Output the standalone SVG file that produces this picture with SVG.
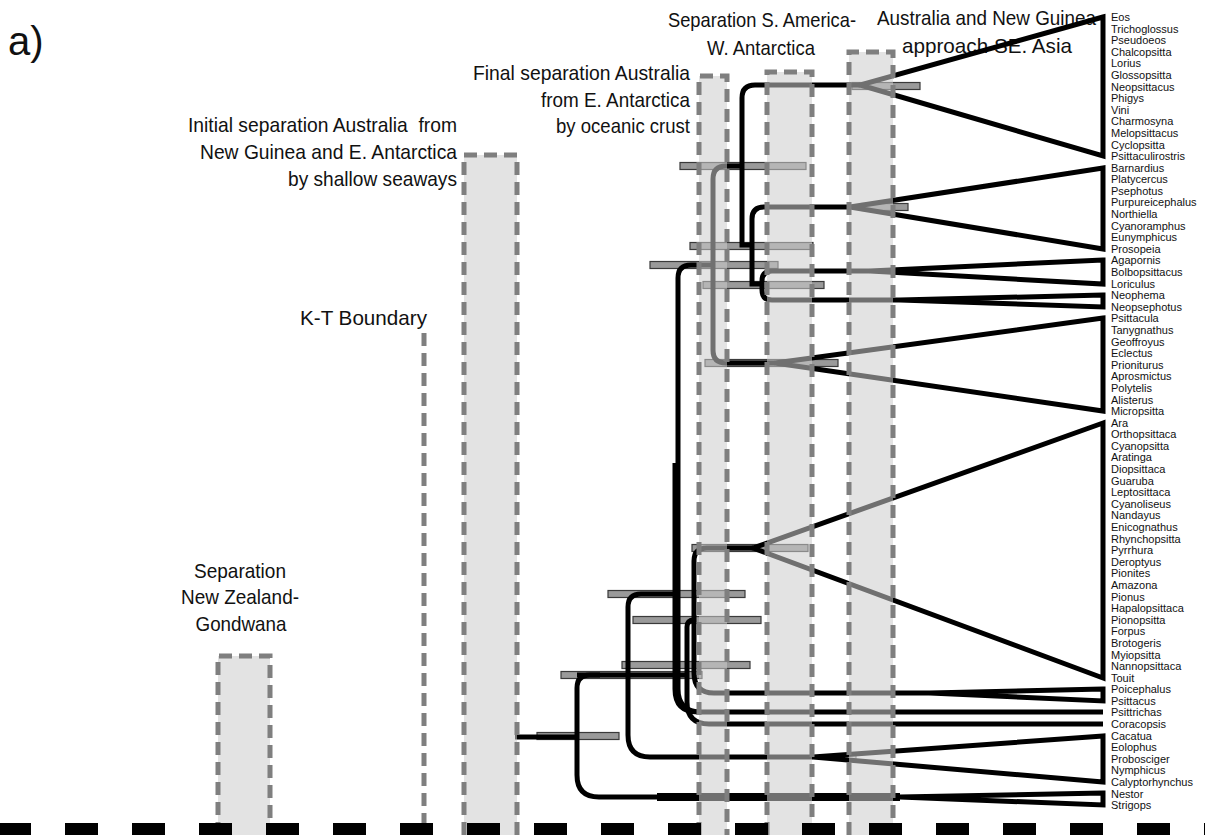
<svg xmlns="http://www.w3.org/2000/svg" width="1205" height="835" viewBox="0 0 1205 835">
<style>
.lbl{font-family:"Liberation Sans Narrow","Liberation Sans",Arial,sans-serif;font-size:21px;fill:#111}
.tx{font-family:"Liberation Sans",Arial,sans-serif;font-size:11px;fill:#111}
.br{fill:none;stroke:#000;stroke-width:5}
.cl{fill:none;stroke:#000;stroke-width:5;stroke-linejoin:miter}
.ci{fill:#9a9a9a;stroke:#3a3a3a;stroke-width:1.2}
.bandfill{fill:#cccccc;fill-opacity:0.55}
.edge{fill:none;stroke:#7f7f7f;stroke-width:5;stroke-dasharray:13 7}
</style>
<rect x="0" y="0" width="1205" height="835" fill="#fff"/>

<g id="event-labels">
<text class="lbl" x="8" y="55" style="font-family:'Liberation Sans',Arial,sans-serif;font-size:40px">a)</text>
<text class="lbl" text-anchor="end" x="457" y="132" textLength="269" lengthAdjust="spacingAndGlyphs">Initial separation Australia&#160; from</text>
<text class="lbl" text-anchor="end" x="457" y="159" textLength="257" lengthAdjust="spacingAndGlyphs">New Guinea and E. Antarctica</text>
<text class="lbl" text-anchor="end" x="457" y="186" textLength="169" lengthAdjust="spacingAndGlyphs">by shallow seaways</text>
<text class="lbl" text-anchor="end" x="690" y="80" textLength="217" lengthAdjust="spacingAndGlyphs">Final separation Australia</text>
<text class="lbl" text-anchor="end" x="690" y="107" textLength="149" lengthAdjust="spacingAndGlyphs">from E. Antarctica</text>
<text class="lbl" text-anchor="end" x="690" y="133" textLength="134" lengthAdjust="spacingAndGlyphs">by oceanic crust</text>
<text class="lbl" x="668" y="27" textLength="188" lengthAdjust="spacingAndGlyphs">Separation S. America-</text>
<text class="lbl" x="707" y="55" textLength="108" lengthAdjust="spacingAndGlyphs">W. Antarctica</text>
<text class="lbl" x="877" y="25" textLength="219" lengthAdjust="spacingAndGlyphs">Australia and New Guinea</text>
<text class="lbl" x="902" y="53" textLength="170" lengthAdjust="spacingAndGlyphs">approach SE. Asia</text>
<text class="lbl" text-anchor="end" x="427" y="325" textLength="127" lengthAdjust="spacingAndGlyphs">K-T Boundary</text>
<text class="lbl" text-anchor="middle" x="240" y="578" textLength="92" lengthAdjust="spacingAndGlyphs">Separation</text>
<text class="lbl" text-anchor="middle" x="240" y="604" textLength="118" lengthAdjust="spacingAndGlyphs">New Zealand-</text>
<text class="lbl" text-anchor="middle" x="241" y="631" textLength="91" lengthAdjust="spacingAndGlyphs">Gondwana</text>
</g>

<g id="ci-bars">
<rect class="ci" x="852" y="82.5" width="68" height="7"/>
<rect class="ci" x="862" y="203.5" width="46" height="7"/>
<rect class="ci" x="680" y="162.5" width="126" height="7"/>
<rect class="ci" x="690" y="242.5" width="123" height="7"/>
<rect class="ci" x="650" y="261.5" width="128" height="7"/>
<rect class="ci" x="703" y="281.5" width="121" height="7"/>
<rect class="ci" x="705" y="359.5" width="133" height="7"/>
<rect class="ci" x="692" y="544.5" width="116" height="7"/>
<rect class="ci" x="608" y="590.5" width="137" height="7"/>
<rect class="ci" x="633" y="616.5" width="128" height="7"/>
<rect class="ci" x="622" y="661.5" width="128" height="7"/>
<rect class="ci" x="561" y="671.5" width="141" height="7"/>
<rect class="ci" x="537" y="732.5" width="82" height="7"/>
<rect x="847" y="754" width="9" height="6" fill="#d0d0d0" stroke="#666" stroke-width="1"/>
</g>

<g id="connectors">
<path class="br" d="M515,737 H577"/>
<path class="br" d="M600,675 H590 Q577,675 577,688 V775 Q577,797 599,797 H900"/>
<path class="br" d="M657,797 H900" style="stroke-width:8"/>
<path class="br" d="M577,675 H688"/>
<path class="br" d="M677,594 H641 Q628,594 628,607 V735 Q628,757 650,757 H813"/>
<path class="br" d="M713,265 H691 Q678,265 678,278 V689 Q678,712 701,712 H1103"/>
<path class="br" d="M675,463 V689 Q675,712 698,712"/>
<path class="br" d="M694,620 Q687,620 687,627 V702 Q687,724 709,724 H1103"/>
<path class="br" d="M753,548 H707 Q694,548 694,561 V673 Q694,693 714,693 H930"/>
<path class="br" d="M742,166 H726 Q713,166 713,179 V350 Q713,363 726,363 H775"/>
<path class="br" d="M860,85 H755 Q742,85 742,98 V245 H752"/>
<path class="br" d="M850,207 H764 Q752,207 752,219 V284 H762"/>
<path class="br" d="M870,271 H772 Q762,271 762,281 V290 Q762,300 772,300 H900"/>
</g>

<g id="clade-loriinae">
<path class="cl" d="M1103,17 L860,85 L1103,156 Z"/>
</g>
<g id="clade-platycercini">
<path class="cl" d="M1103,168 L850,207 L1103,249 Z"/>
</g>
<g id="clade-agapornis">
<path class="cl" d="M1103,260 L870,271 L1103,284 Z"/>
</g>
<g id="clade-neophema">
<path class="cl" d="M1103,295 L900,300 L1103,307 Z"/>
</g>
<g id="clade-psittaculini">
<path class="cl" d="M1103,318 L775,363 L1103,411 Z"/>
</g>
<g id="clade-arini">
<path class="cl" d="M1103,423 L753,548 L1103,678 Z"/>
</g>
<g id="clade-psittacini">
<path class="cl" d="M1103,689 L930,693 L1103,701 Z"/>
</g>
<g id="clade-cacatuidae">
<path class="cl" d="M1103,736 L813,757 L1103,782 Z"/>
</g>
<g id="clade-strigopoidea">
<path class="cl" d="M1103,793 L900,797 L1103,805 Z"/>
</g>

<g id="band-nz">
<rect class="bandfill" x="218" y="656" width="52" height="179"/>
<path class="edge" d="M218,835 V656 H270 V835"/>
</g>
<g id="kt-boundary">
<path class="edge" d="M424,333 V835"/>
</g>
<g id="band-initial">
<rect class="bandfill" x="464" y="155" width="53" height="680"/>
<path class="edge" d="M464,835 V155 H517 V835"/>
</g>
<g id="band-final">
<rect class="bandfill" x="699" y="76" width="28" height="759"/>
<path class="edge" d="M699,835 V76 H727 V835"/>
</g>
<g id="band-samerica">
<rect class="bandfill" x="767" y="72" width="45" height="763"/>
<path class="edge" d="M767,835 V72 H812 V835"/>
</g>
<g id="band-asia">
<rect class="bandfill" x="849" y="52" width="44" height="783"/>
<path class="edge" d="M849,835 V52 H893 V835"/>
</g>

<g id="taxa">
<text class="tx">
<tspan x="1111" y="21">Eos</tspan>
<tspan x="1111" y="32.6">Trichoglossus</tspan>
<tspan x="1111" y="44.2">Pseudoeos</tspan>
<tspan x="1111" y="55.8">Chalcopsitta</tspan>
<tspan x="1111" y="67.4">Lorius</tspan>
<tspan x="1111" y="79">Glossopsitta</tspan>
<tspan x="1111" y="90.5">Neopsittacus</tspan>
<tspan x="1111" y="102.1">Phigys</tspan>
<tspan x="1111" y="113.7">Vini</tspan>
<tspan x="1111" y="125.3">Charmosyna</tspan>
<tspan x="1111" y="136.9">Melopsittacus</tspan>
<tspan x="1111" y="148.5">Cyclopsitta</tspan>
<tspan x="1111" y="160.1">Psittaculirostris</tspan>
<tspan x="1111" y="171.7">Barnardius</tspan>
<tspan x="1111" y="183.3">Platycercus</tspan>
<tspan x="1111" y="194.9">Psephotus</tspan>
<tspan x="1111" y="206.4">Purpureicephalus</tspan>
<tspan x="1111" y="218">Northiella</tspan>
<tspan x="1111" y="229.6">Cyanoramphus</tspan>
<tspan x="1111" y="241.2">Eunymphicus</tspan>
<tspan x="1111" y="252.8">Prosopeia</tspan>
<tspan x="1111" y="264.4">Agapornis</tspan>
<tspan x="1111" y="276">Bolbopsittacus</tspan>
<tspan x="1111" y="287.6">Loriculus</tspan>
<tspan x="1111" y="299.2">Neophema</tspan>
<tspan x="1111" y="310.8">Neopsephotus</tspan>
<tspan x="1111" y="322.3">Psittacula</tspan>
<tspan x="1111" y="333.9">Tanygnathus</tspan>
<tspan x="1111" y="345.5">Geoffroyus</tspan>
<tspan x="1111" y="357.1">Eclectus</tspan>
<tspan x="1111" y="368.7">Prioniturus</tspan>
<tspan x="1111" y="380.3">Aprosmictus</tspan>
<tspan x="1111" y="391.9">Polytelis</tspan>
<tspan x="1111" y="403.5">Alisterus</tspan>
<tspan x="1111" y="415.1">Micropsitta</tspan>
<tspan x="1111" y="426.7">Ara</tspan>
<tspan x="1111" y="438.2">Orthopsittaca</tspan>
<tspan x="1111" y="449.8">Cyanopsitta</tspan>
<tspan x="1111" y="461.4">Aratinga</tspan>
<tspan x="1111" y="473">Diopsittaca</tspan>
<tspan x="1111" y="484.6">Guaruba</tspan>
<tspan x="1111" y="496.2">Leptosittaca</tspan>
<tspan x="1111" y="507.8">Cyanoliseus</tspan>
<tspan x="1111" y="519.4">Nandayus</tspan>
<tspan x="1111" y="531">Enicognathus</tspan>
<tspan x="1111" y="542.6">Rhynchopsitta</tspan>
<tspan x="1111" y="554.1">Pyrrhura</tspan>
<tspan x="1111" y="565.7">Deroptyus</tspan>
<tspan x="1111" y="577.3">Pionites</tspan>
<tspan x="1111" y="588.9">Amazona</tspan>
<tspan x="1111" y="600.5">Pionus</tspan>
<tspan x="1111" y="612.1">Hapalopsittaca</tspan>
<tspan x="1111" y="623.7">Pionopsitta</tspan>
<tspan x="1111" y="635.3">Forpus</tspan>
<tspan x="1111" y="646.9">Brotogeris</tspan>
<tspan x="1111" y="658.5">Myiopsitta</tspan>
<tspan x="1111" y="670">Nannopsittaca</tspan>
<tspan x="1111" y="681.6">Touit</tspan>
<tspan x="1111" y="693.2">Poicephalus</tspan>
<tspan x="1111" y="704.8">Psittacus</tspan>
<tspan x="1111" y="716.4">Psittrichas</tspan>
<tspan x="1111" y="728">Coracopsis</tspan>
<tspan x="1111" y="739.6">Cacatua</tspan>
<tspan x="1111" y="751.2">Eolophus</tspan>
<tspan x="1111" y="762.8">Probosciger</tspan>
<tspan x="1111" y="774.4">Nymphicus</tspan>
<tspan x="1111" y="785.9">Calyptorhynchus</tspan>
<tspan x="1111" y="797.5">Nestor</tspan>
<tspan x="1111" y="809.1">Strigops</tspan>
</text>
</g>

<g id="time-axis">
<path d="M-2,829 H1205" fill="none" stroke="#000" stroke-width="12" stroke-dasharray="33 34"/>
</g>
</svg>
